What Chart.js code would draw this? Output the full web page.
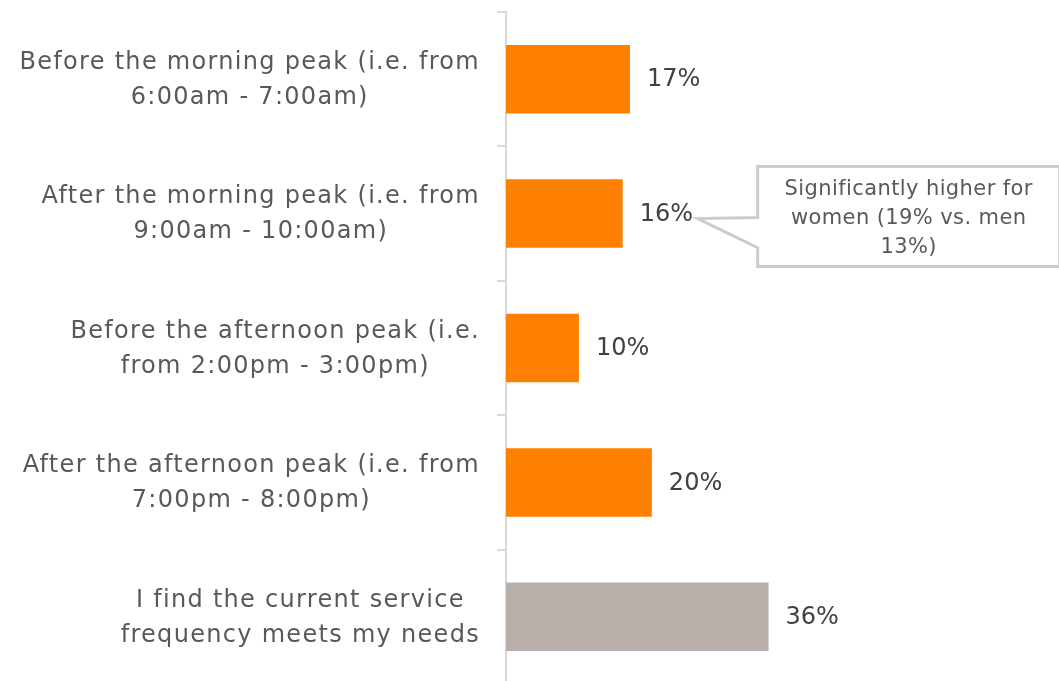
<!DOCTYPE html>
<html lang="en">
<head>
  <meta charset="UTF-8">
  <title>Preferred additional service times</title>
  <style>
    html, body { margin: 0; padding: 0; background: #fff; overflow: hidden; }
    #wrap { position: relative; width: 1059px; height: 684px; }
  </style>
</head>
<body>
  <div id="wrap">
    <canvas id="myChart"></canvas>
  </div>

  <script src="https://cdn.jsdelivr.net/npm/chart.js"></script>
  <script>
    // Survey answers, top to bottom
    const categories = [
      ['Before the morning peak (i.e. from', '6:00am - 7:00am)'],
      ['After the morning peak (i.e. from', '9:00am - 10:00am)'],
      ['Before the afternoon peak (i.e.', 'from 2:00pm - 3:00pm)'],
      ['After the afternoon peak (i.e. from', '7:00pm - 8:00pm)'],
      ['I find the current service', 'frequency meets my needs']
    ];
    const shares = [17, 16, 10, 20, 36];
    const barColors = ['#FF7F00', '#FF7F00', '#FF7F00', '#FF7F00', '#B8AFAA'];
    const noteIndex = 1;
    const noteLines = ['Significantly higher for', 'women (19% vs. men', '13%)'];

    const FONT = '"DejaVu Sans", sans-serif';

    // category labels: each block sits against the axis, its lines centred
    const categoryLabels = {
      id: 'categoryLabels',
      afterDraw(chart) {
        const ctx = chart.ctx;
        const y = chart.scales.y;
        const right = chart.chartArea.left - 26;
        ctx.save();
        ctx.letterSpacing = '1.3px';
        ctx.font = '24px ' + FONT;
        ctx.fillStyle = '#595959';
        ctx.textAlign = 'center';
        ctx.textBaseline = 'middle';
        categories.forEach((lines, i) => {
          const cy = y.getPixelForTick(i) + 1;
          const w = Math.max(...lines.map(t => ctx.measureText(t).width));
          const cx = right - w / 2;
          lines.forEach((t, j) => {
            ctx.fillText(t, cx, cy + (j - (lines.length - 1) / 2) * 35);
          });
        });
        ctx.restore();
      }
    };

    // percent labels to the right of each bar
    const valueLabels = {
      id: 'valueLabels',
      afterDatasetsDraw(chart) {
        const ctx = chart.ctx;
        const meta = chart.getDatasetMeta(0);
        ctx.save();
        ctx.font = '24px ' + FONT;
        ctx.fillStyle = '#404040';
        ctx.textBaseline = 'middle';
        ctx.textAlign = 'left';
        meta.data.forEach((bar, i) => {
          ctx.fillText(shares[i] + '%', bar.x + 17, bar.y + 1);
        });
        ctx.restore();
      }
    };

    // speech-bubble note pointing at one of the labels
    const callout = {
      id: 'callout',
      afterDraw(chart) {
        const ctx = chart.ctx;
        const bar = chart.getDatasetMeta(0).data[noteIndex];
        const tipX = bar.x + 75, tipY = bar.y + 5;
        const L = tipX + 60, R = L + 302;
        const T = bar.y - 47, B = bar.y + 53;
        ctx.save();
        ctx.beginPath();
        ctx.moveTo(L, T);
        ctx.lineTo(R, T);
        ctx.lineTo(R, B);
        ctx.lineTo(L, B);
        ctx.lineTo(L, bar.y + 34);
        ctx.lineTo(tipX, tipY);
        ctx.lineTo(L, bar.y + 4);
        ctx.closePath();
        ctx.fillStyle = '#ffffff';
        ctx.fill();
        ctx.lineWidth = 3;
        ctx.strokeStyle = '#cccccc';
        ctx.stroke();

        ctx.letterSpacing = '0.4px';
        ctx.font = '21px ' + FONT;
        ctx.fillStyle = '#595959';
        ctx.textAlign = 'center';
        ctx.textBaseline = 'middle';
        noteLines.forEach((line, i) => {
          ctx.fillText(line, L + 151, T + 23 + i * 29);
        });
        ctx.restore();
      }
    };

    const ctx = document.getElementById('myChart');

    const grafica = new Chart(ctx, {
      type: 'bar',
      data: {
        labels: categories,
        datasets: [{
          data: shares,
          backgroundColor: barColors,
          borderWidth: 0,
          categoryPercentage: 1,
          barPercentage: 0.51
        }]
      },
      options: {
        indexAxis: 'y',
        responsive: true,
        maintainAspectRatio: false,
        animation: false,
        layout: { padding: { top: 12, right: 6, bottom: 0, left: 0 } },
        plugins: {
          legend: { display: false },
          tooltip: { enabled: false }
        },
        scales: {
          x: {
            display: false,
            min: 0,
            max: 75
          },
          y: {
            afterFit(scale) {
              scale.width = 506;
              scale.paddingTop = 0;
              scale.paddingBottom = 0;
            },
            border: { display: true, color: '#d9d9d9', width: 2 },
            grid: {
              display: true,
              offset: true,
              drawOnChartArea: false,
              drawTicks: true,
              tickLength: 9,
              color: '#d9d9d9',
              lineWidth: 2
            },
            ticks: { display: false }
          }
        }
      },
      plugins: [categoryLabels, valueLabels, callout]
    });
  </script>
</body>
</html>
